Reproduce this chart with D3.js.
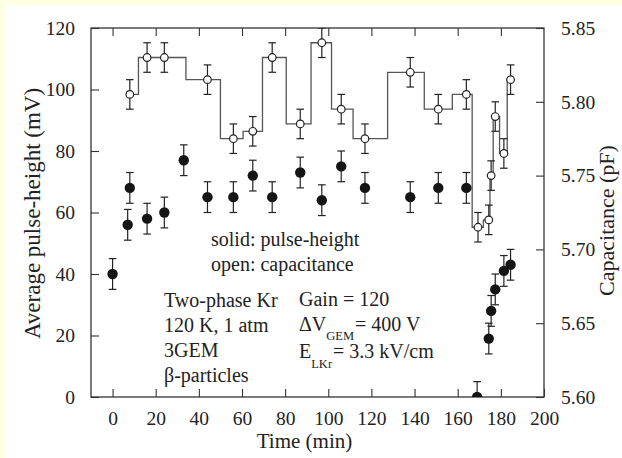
<!DOCTYPE html>
<html><head><meta charset="utf-8">
<script src="https://cdn.jsdelivr.net/npm/d3@7/dist/d3.min.js"></script>
<style>
html,body{margin:0;padding:0;background:#fff;}
svg{display:block;}
svg text{font-family:"Liberation Serif","Tinos","Times New Roman","DejaVu Serif",serif !important;fill:#222;}
</style></head>
<body><svg id="c" width="622" height="458"></svg>
<script>
// Pulse-height (solid) data: time (min), mV
const solidTime = [0, 7, 8, 16, 24, 33, 44, 56, 65, 74, 87, 97, 106, 117, 138, 151, 164, 169, 174.4, 175.5, 177.4, 181.4, 184.5];
const solidMV   = [40, 56, 68, 58, 60, 77, 65, 65, 72, 65, 73, 64, 75, 68, 65, 68, 68, 0, 19, 28, 35, 41, 43];
const solidErr = 5;
// Capacitance (open) data: time (min), pF
const openTime = [8, 16, 24, 44, 56, 65, 74, 87, 97, 106, 117, 138, 151, 164, 169.4, 174.4, 175.5, 177.4, 181.4, 184.5];
const openPF   = [5.805, 5.83, 5.83, 5.815, 5.775, 5.78, 5.83, 5.785, 5.84, 5.795, 5.775, 5.82, 5.795, 5.805, 5.715, 5.72, 5.75, 5.79, 5.765, 5.815];
const openErr = 0.01;
// Axis ticks
const xTicks = [0, 20, 40, 60, 80, 100, 120, 140, 160, 180, 200];
const yTicks = [0, 20, 40, 60, 80, 100, 120];
const y2Ticks = [5.60, 5.65, 5.70, 5.75, 5.80, 5.85];

const FONT = '"Liberation Serif","Tinos","Times New Roman","DejaVu Serif",serif';
const svg = d3.select("#c");
const L = 91, R = 544, T = 28, B = 397;
const x = d3.scaleLinear().domain([-10, 200]).range([L, R]);
const y = d3.scaleLinear().domain([0, 120]).range([B, T]);
const y2 = d3.scaleLinear().domain([5.60, 5.85]).range([B, T]);

// page background strips
svg.append("rect").attr("x",0).attr("y",0).attr("width",622).attr("height",458).attr("fill","#fff");
svg.append("rect").attr("x",0).attr("y",0).attr("width",622).attr("height",5).attr("fill","#ffffe3");
svg.append("rect").attr("x",0).attr("y",0).attr("width",6).attr("height",458).attr("fill","#ffffe3");

svg.append("clipPath").attr("id","clip").append("rect")
  .attr("x",L).attr("y",T).attr("width",R-L).attr("height",B-T);

const tickLen = 8, fs = 19.5;
const axStyle = g => { g.attr("font-family",FONT); g.select(".domain").remove();
  g.selectAll("line").attr("stroke","#333").attr("stroke-width",1.1);
  g.selectAll("text").attr("font-size",fs).attr("fill","#222"); };

svg.append("g").attr("transform",`translate(0,${B})`)
  .call(d3.axisBottom(x).tickValues(xTicks).tickSize(-tickLen).tickPadding(14).tickFormat(d3.format("d")))
  .call(axStyle);
svg.append("g").attr("transform",`translate(0,${T})`)
  .call(d3.axisTop(x).tickValues(xTicks.filter(d=>d<200)).tickSize(-tickLen).tickFormat(""))
  .call(axStyle);
svg.append("g").attr("transform",`translate(${L},0)`)
  .call(d3.axisLeft(y).tickValues(yTicks).tickSize(-tickLen).tickPadding(16).tickFormat(d3.format("d")))
  .call(axStyle);
svg.append("g").attr("transform",`translate(${R},0)`)
  .call(d3.axisRight(y2).tickValues(y2Ticks).tickSize(-tickLen).tickPadding(17).tickFormat(d3.format(".2f")))
  .call(axStyle);

// frame
svg.append("rect").attr("x",L).attr("y",T).attr("width",R-L).attr("height",B-T)
  .attr("fill","none").attr("stroke","#333").attr("stroke-width",1.3);

const plot = svg.append("g").attr("clip-path","url(#clip)");

// step line through capacitance
const openData = openTime.map((t,i)=>({t, v:openPF[i]}));
const solidData = solidTime.map((t,i)=>({t, v:solidMV[i]}));
plot.append("path").datum(openData)
  .attr("d", d3.line().x(d=>x(d.t)).y(d=>y2(d.v)).curve(d3.curveStep))
  .attr("fill","none").attr("stroke","#555").attr("stroke-width",1.3);

function errBars(data, sc, err){
  const g = plot.append("g").attr("stroke","#222").attr("stroke-width",1.2);
  data.forEach(d=>{
    const cx = x(d.t), y0 = sc(d.v-err), y1 = sc(d.v+err);
    g.append("line").attr("x1",cx).attr("x2",cx).attr("y1",y0).attr("y2",y1);
    g.append("line").attr("x1",cx-3.8).attr("x2",cx+3.8).attr("y1",y0).attr("y2",y0);
    g.append("line").attr("x1",cx-3.8).attr("x2",cx+3.8).attr("y1",y1).attr("y2",y1);
  });
}
errBars(openData, y2, openErr);
errBars(solidData, y, solidErr);

plot.append("g").selectAll("circle").data(openData).join("circle")
  .attr("cx",d=>x(d.t)).attr("cy",d=>y2(d.v)).attr("r",3.8)
  .attr("fill","#fff").attr("stroke","#222").attr("stroke-width",1.2);
plot.append("g").selectAll("circle").data(solidData).join("circle")
  .attr("cx",d=>x(d.t)).attr("cy",d=>y(d.v)).attr("r",5.2)
  .attr("fill","#151515");

// axis titles
const titles = svg.append("g").attr("font-family",FONT);
titles.append("text").attr("transform",`translate(${(L+R)/2 - 13},448)`).attr("text-anchor","middle")
  .attr("font-size",21).text("Time (min)");
titles.append("text").attr("transform",`translate(40,${(T+B)/2 + 1}) rotate(-90)`).attr("text-anchor","middle")
  .attr("font-size",23).text("Average pulse-height (mV)");
titles.append("text").attr("transform",`translate(614,${(T+B)/2 + 8}) rotate(-90)`).attr("text-anchor","middle")
  .attr("font-size",22).text("Capacitance (pF)");

// annotations
const ann = svg.append("g").attr("font-size",20).attr("font-family",FONT);
ann.append("text").attr("x",211).attr("y",246).text("solid: pulse-height");
ann.append("text").attr("x",211).attr("y",271).text("open: capacitance");
["Two-phase Kr","120 K, 1 atm","3GEM","β-particles"].forEach((s,i)=>
  ann.append("text").attr("x",164).attr("y",307+i*25).text(s));
ann.append("text").attr("x",299).attr("y",306).text("Gain = 120");
const t2 = ann.append("text").attr("x",299).attr("y",331);
t2.append("tspan").text("ΔV");
t2.append("tspan").attr("dy",9).attr("font-size",12.5).text("GEM");
t2.append("tspan").attr("dy",-9).attr("dx",1).text("= 400 V");
const t3 = ann.append("text").attr("x",299).attr("y",358);
t3.append("tspan").text("E");
t3.append("tspan").attr("dy",10).attr("font-size",12.5).text("LKr");
t3.append("tspan").attr("dy",-10).attr("dx",1).text("= 3.3 kV/cm");
</script></body></html>
